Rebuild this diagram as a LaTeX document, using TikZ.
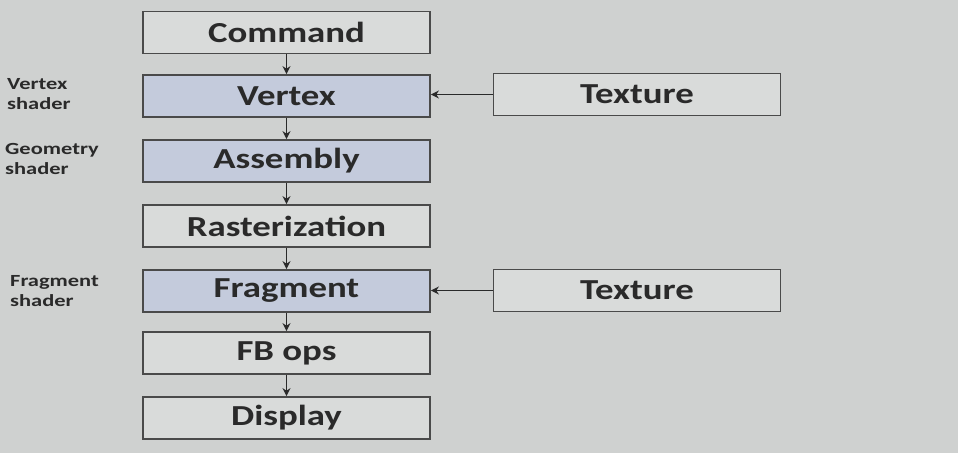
\documentclass[tikz,border=0pt]{standalone}
\usepackage{fontspec}
\setmainfont{Carlito}
\newfontfamily\wide[FakeStretch=1.27]{Carlito}
\newfontfamily\widesmall[FakeStretch=1.32]{Carlito}
\usetikzlibrary{arrows.meta}
\definecolor{bg}{HTML}{CFD1D0}
\definecolor{boxfill}{HTML}{D9DBDA}
\definecolor{bluefill}{HTML}{C4CBDC}
\definecolor{edge}{HTML}{4A4A4A}
\definecolor{ink}{HTML}{2A2A2A}
\begin{document}
\begin{tikzpicture}[x=1pt,y=-1pt,
  stage/.style={draw=edge,line width=1.8pt,fill=boxfill,minimum width=287pt,minimum height=42pt,inner sep=0pt,text=ink,font=\wide\fontsize{29}{32}\selectfont\bfseries},
  shaderstage/.style={stage,fill=bluefill},
  side/.style={font=\widesmall\fontsize{17}{20}\selectfont\bfseries,text=ink,align=left,anchor=west,inner sep=0pt},
  flow/.style={draw=ink,line width=1.8pt,-{Stealth[length=8pt,width=8pt]}}]
\fill[bg] (0,0) rectangle (958,453);
\useasboundingbox (0,0) rectangle (958,453);
\node[stage] (cmd) at (286.5,32.5) {Command};
\node[shaderstage] (vtx) at (286.5,96) {Vertex};
\node[shaderstage] (asm) at (286.5,161) {Assembly};
\node[stage] (ras) at (286.5,226) {Rasterization};
\node[shaderstage] (frg) at (286.5,291) {Fragment};
\node[stage] (fbo) at (286.5,353) {FB ops};
\node[stage] (dsp) at (286.5,418) {Display};
\node[stage] (tx1) at (637,94.5) {Texture};
\node[stage] (tx2) at (637,290.5) {Texture};
\node[side] (lv) at (7,94) {Vertex\\shader};
\node[side] (lg) at (5,159) {Geometry\\shader};
\node[side] (lf) at (10,291) {Fragment\\shader};
\draw[flow] (cmd) -- (vtx);
\draw[flow] (vtx) -- (asm);
\draw[flow] (asm) -- (ras);
\draw[flow] (ras) -- (frg);
\draw[flow] (frg) -- (fbo);
\draw[flow] (fbo) -- (dsp);
\draw[flow] (tx1.west) -- (vtx.east |- tx1.west);
\draw[flow] (tx2.west) -- (frg.east |- tx2.west);
\end{tikzpicture}
\end{document}
